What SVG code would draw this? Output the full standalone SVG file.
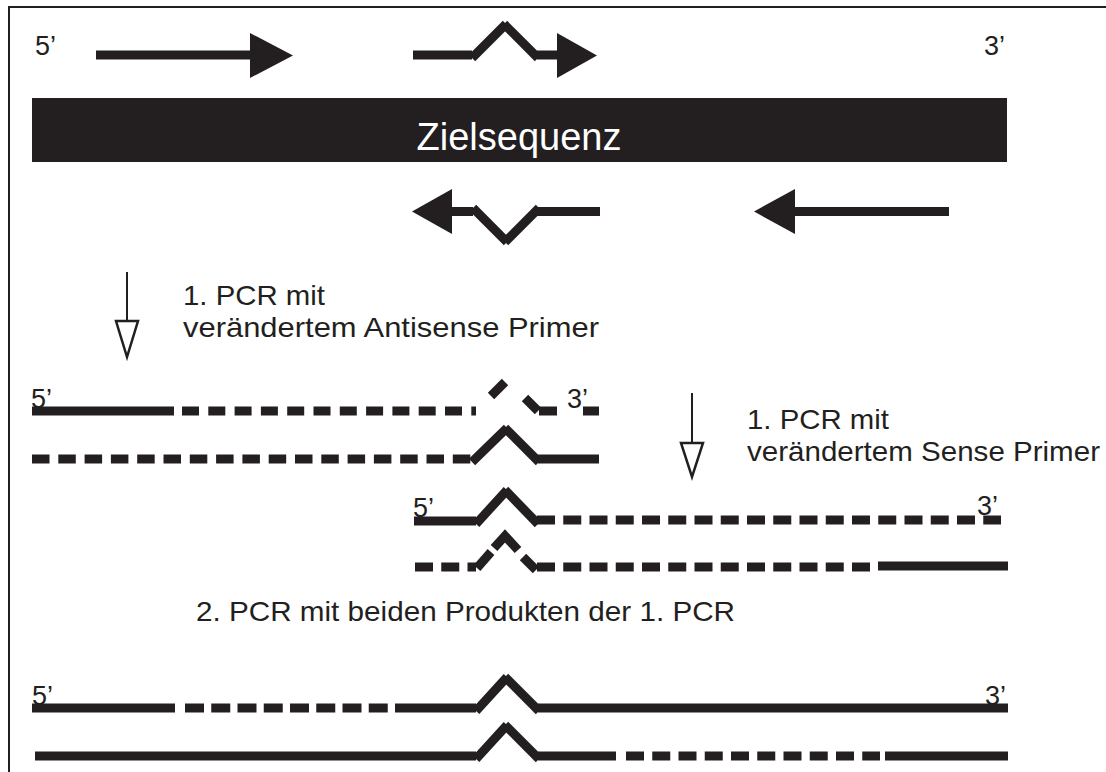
<svg xmlns="http://www.w3.org/2000/svg" width="1106" height="772" viewBox="0 0 1106 772">
<style>
.s{stroke:#231f20;stroke-width:9;fill:none;stroke-linecap:butt}
.d1{stroke-dasharray:17 9.3}
.d2{stroke-dasharray:17.5 8.8}
.d3{stroke-dasharray:18 8.25}
.d4{stroke-dasharray:19 7.25}
.head{fill:#231f20;stroke:none}
.thin{stroke:#231f20;stroke-width:2;fill:none}
.tri{stroke:#231f20;stroke-width:2.5;fill:#fff;stroke-linejoin:miter}
.t{font-family:"Liberation Sans",Arial,sans-serif;fill:#231f20}
.lbl{font-size:28.5px}
.end{font-size:27px}
</style>
<rect x="0" y="0" width="1106" height="772" fill="#fff"/>
<path class="thin" d="M9,780 V7 H1106"/>

<g id="labels-ends">
<text class="t end" x="35" y="55">5’</text>
<text class="t end" x="984" y="55">3’</text>
<text class="t end" x="31" y="408">5’</text>
<text class="t end" x="567" y="408">3’</text>
<text class="t end" x="413" y="517">5’</text>
<text class="t end" x="977" y="515">3’</text>
<text class="t end" x="32" y="705">5’</text>
<text class="t end" x="985" y="705">3’</text>
</g>

<g id="zielsequenz">
<rect x="32" y="98" width="975" height="64" fill="#231f20"/>
<text class="t" x="519" y="150" font-size="38" text-anchor="middle" style="fill:#fff">Zielsequenz</text>
</g>

<g id="sense-primer">
<line class="s" x1="96" y1="55" x2="251" y2="55"/>
<polygon class="head" points="250,33 293,55.5 250,78"/>
</g>

<g id="mut-sense-primer">
<line class="s" x1="413" y1="55" x2="472" y2="55"/>
<line class="s" x1="472" y1="58" x2="506" y2="24"/>
<line class="s" x1="504" y1="24" x2="538" y2="58"/>
<line class="s" x1="537" y1="55" x2="558" y2="55"/>
<polygon class="head" points="557,33 597,55.5 557,78"/>
</g>

<g id="mut-antisense-primer">
<polygon class="head" points="452,189 412,211.5 452,234"/>
<line class="s" x1="451" y1="211.5" x2="473" y2="211.5"/>
<line class="s" x1="473" y1="208" x2="507" y2="242"/>
<line class="s" x1="505" y1="242" x2="539" y2="208"/>
<line class="s" x1="537" y1="211.5" x2="600" y2="211.5"/>
</g>

<g id="antisense-primer">
<polygon class="head" points="795,189 754,211.5 795,234"/>
<line class="s" x1="794" y1="211.5" x2="949" y2="211.5"/>
</g>

<g id="step1a">
<line class="thin" x1="127" y1="272" x2="127" y2="321"/>
<polygon class="tri" points="116,321 138,321 127,357"/>
<text class="t lbl" x="183" y="305" textLength="142" lengthAdjust="spacingAndGlyphs">1. PCR mit</text>
<text class="t lbl" x="183" y="337" textLength="416" lengthAdjust="spacingAndGlyphs">verändertem Antisense Primer</text>
</g>

<g id="step1b">
<line class="thin" x1="692" y1="393" x2="692" y2="443"/>
<polygon class="tri" points="681,443 703,443 692,477"/>
<text class="t lbl" x="747" y="429" textLength="142" lengthAdjust="spacingAndGlyphs">1. PCR mit</text>
<text class="t lbl" x="747" y="461" textLength="353" lengthAdjust="spacingAndGlyphs">verändertem Sense Primer</text>
</g>

<g id="product-a">
<line class="s" x1="32" y1="411" x2="174" y2="411"/>
<line class="s d1" x1="182" y1="411" x2="476" y2="411"/>
<line class="s" x1="491" y1="396" x2="505" y2="382"/>
<line class="s" x1="525" y1="398" x2="538" y2="411"/>
<line class="s" x1="539" y1="411" x2="557" y2="411"/>
<line class="s" x1="583" y1="411" x2="599" y2="411"/>
</g>

<g id="product-a2">
<line class="s d2" x1="32" y1="459" x2="471" y2="459"/>
<line class="s" x1="472" y1="462" x2="507" y2="428"/>
<line class="s" x1="505" y1="428" x2="539" y2="462"/>
<line class="s" x1="538" y1="459" x2="599" y2="459"/>
</g>

<g id="product-b">
<line class="s" x1="414" y1="521" x2="476" y2="521"/>
<line class="s" x1="476" y1="524" x2="507" y2="490"/>
<line class="s" x1="505" y1="490" x2="538" y2="524"/>
<line class="s d3" x1="537" y1="520" x2="1001" y2="520"/>
</g>

<g id="product-b2">
<line class="s d3" x1="415" y1="567" x2="476" y2="567"/>
<line class="s" x1="477" y1="568" x2="491" y2="552"/>
<polyline class="s" points="494,548 505,536 518,550"/>
<line class="s" x1="523" y1="557" x2="536" y2="570"/>
<line class="s d3" x1="537" y1="567" x2="871" y2="567"/>
<line class="s" x1="878" y1="566" x2="1008" y2="566"/>
</g>

<g id="label-step2">
<text class="t lbl" x="196" y="621" textLength="539" lengthAdjust="spacingAndGlyphs">2. PCR mit beiden Produkten der 1. PCR</text>
</g>

<g id="final-a">
<line class="s" x1="32" y1="708" x2="175" y2="708"/>
<line class="s d4" x1="185" y1="708" x2="395" y2="708"/>
<line class="s" x1="395" y1="708" x2="476" y2="708"/>
<line class="s" x1="476" y1="711" x2="507" y2="677"/>
<line class="s" x1="505" y1="677" x2="539" y2="711"/>
<line class="s" x1="538" y1="708" x2="1008" y2="708"/>
</g>

<g id="final-b">
<line class="s" x1="35" y1="756" x2="476" y2="756"/>
<line class="s" x1="476" y1="759" x2="507" y2="725"/>
<line class="s" x1="505" y1="725" x2="539" y2="759"/>
<line class="s" x1="538" y1="756" x2="616" y2="756"/>
<line class="s d3" x1="626" y1="756" x2="880" y2="756"/>
<line class="s" x1="885" y1="756" x2="1008" y2="756"/>
</g>
</svg>
